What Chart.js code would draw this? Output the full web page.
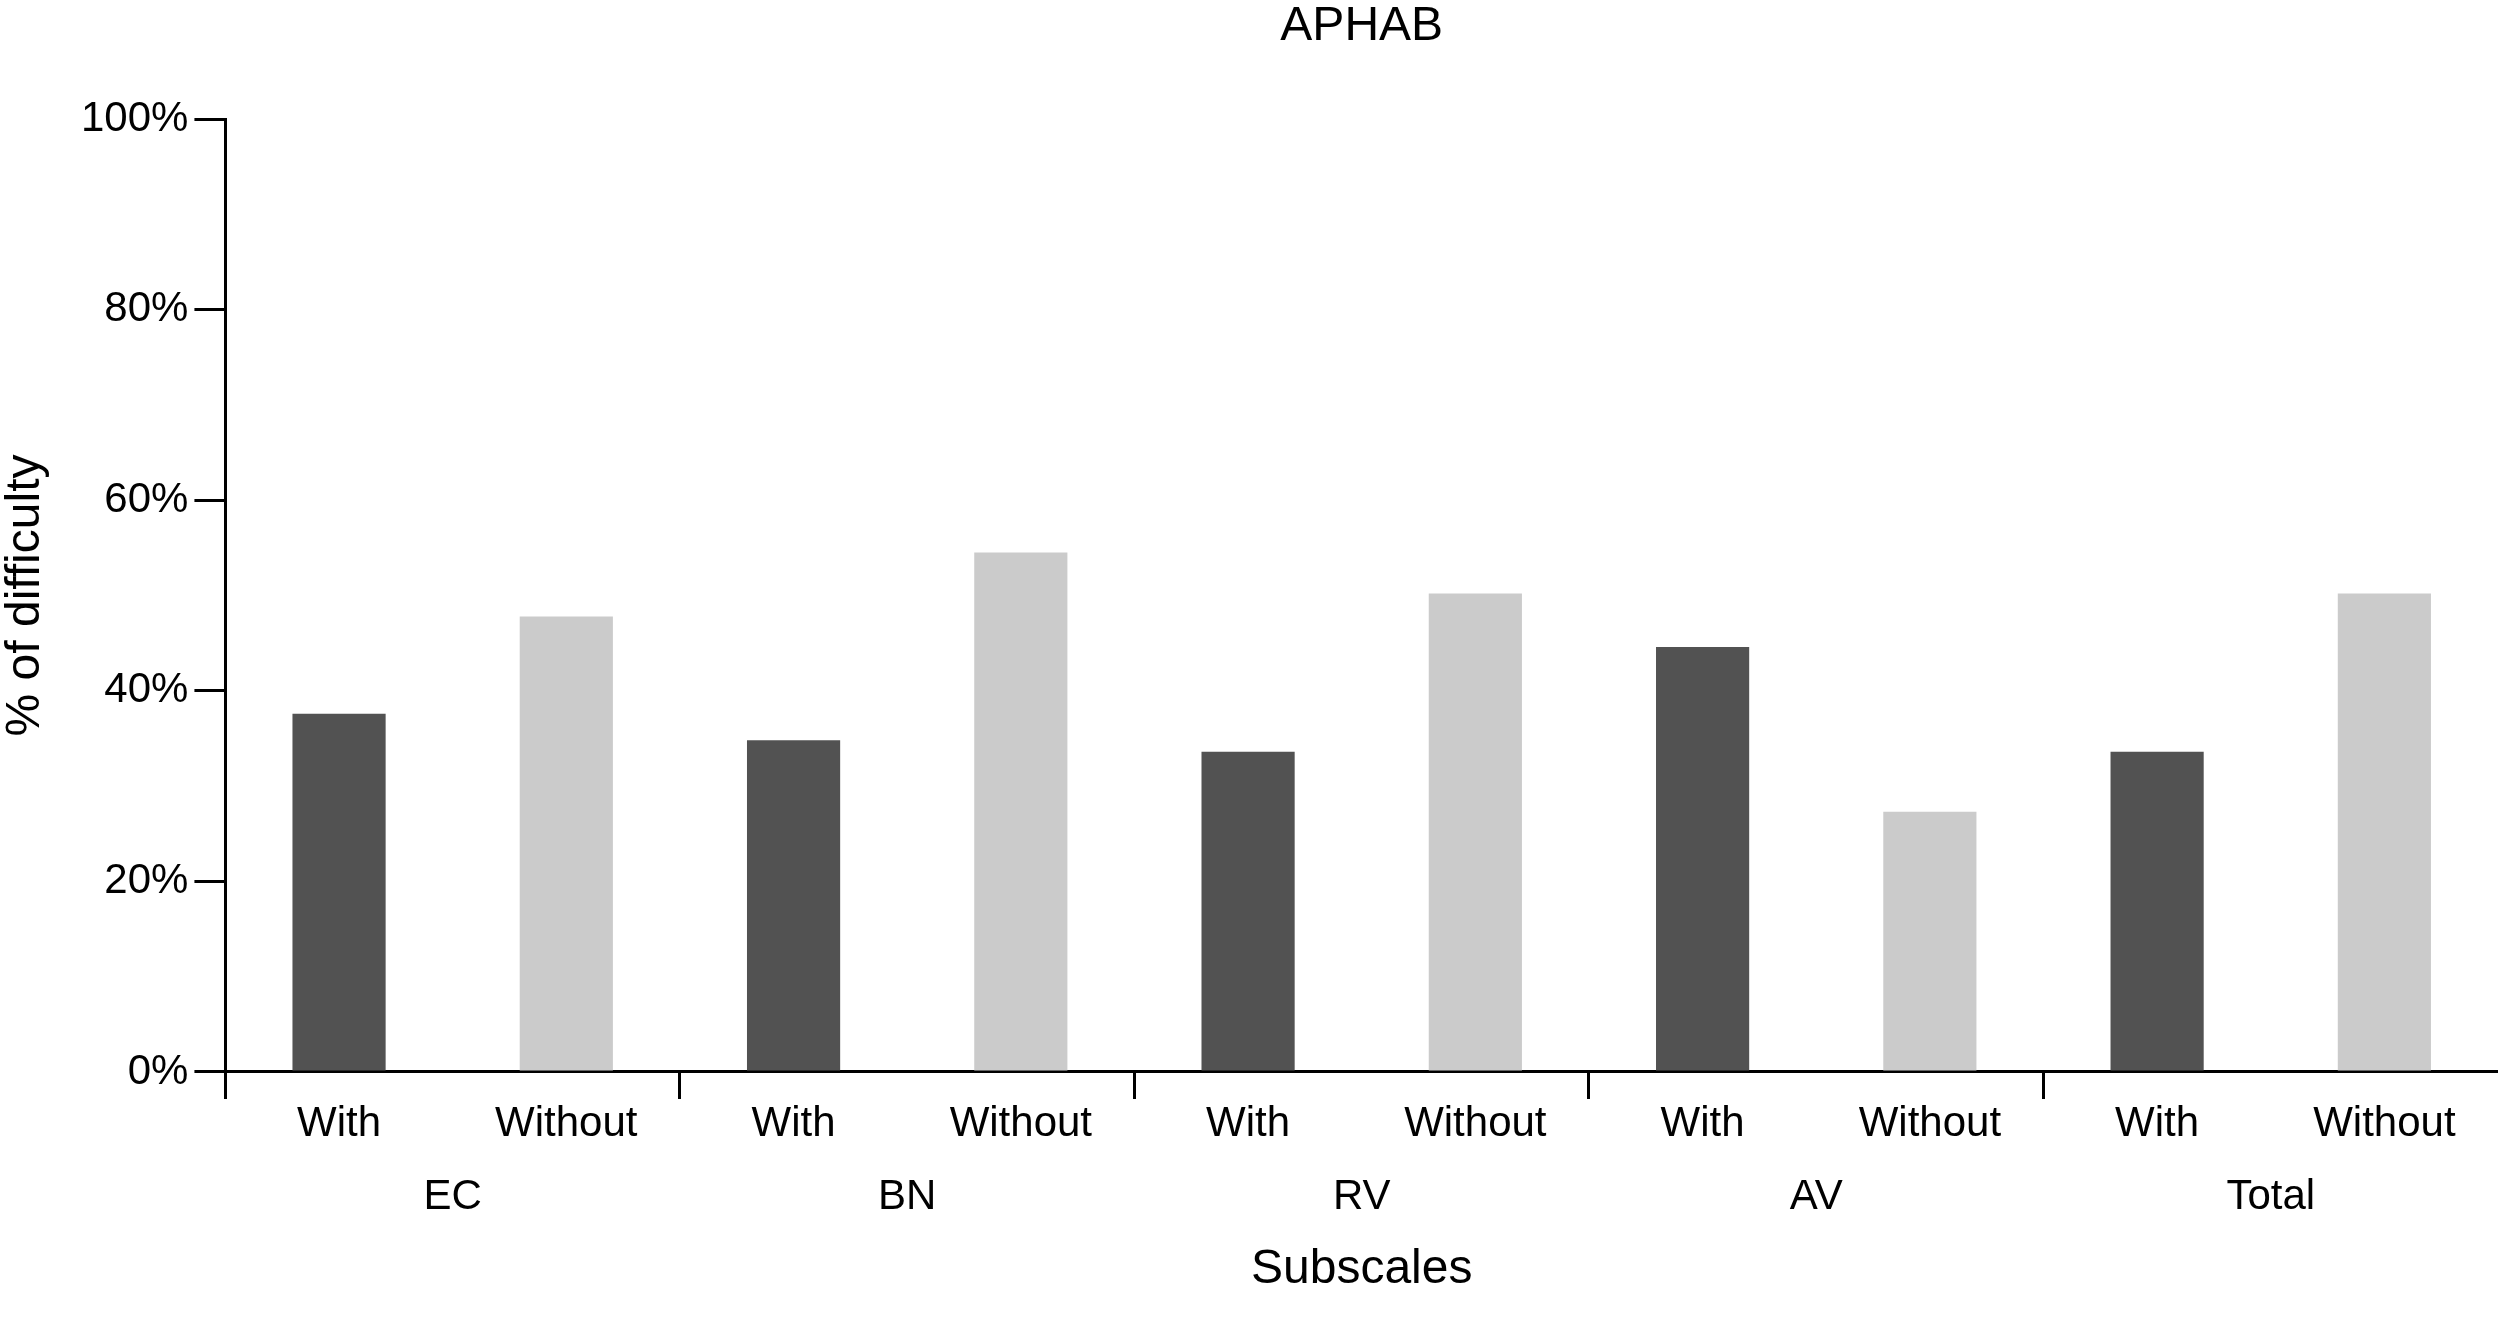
<!DOCTYPE html>
<html>
<head>
<meta charset="utf-8">
<script src="https://cdn.jsdelivr.net/npm/chart.js@4.4.0/dist/chart.umd.min.js"></script>
<style>
    html, body { margin: 0; padding: 0; background: #fff; }
    #wrap { width: 2498px; height: 1324px; }
</style>
</head>
<body>
<div id="wrap"><canvas id="myChart"></canvas></div>
<script>
// Data

const subscales = ["EC", "BN", "RV", "AV", "Total"];
const conditions = ["With", "Without"];
const withValues = [37.6, 34.8, 33.6, 44.6, 33.6];
const withoutValues = [47.8, 54.5, 50.2, 27.3, 50.2];
const yTicks = [0, 20, 40, 60, 80, 100];

const darkGrey = "#525252",
    lightGrey = "#cbcbcb";

let labels = [],
    values = [],
    colors = [];

subscales.forEach((s, i) => {
    labels.push(conditions[0], conditions[1]);
    values.push(withValues[i], withoutValues[i]);
    colors.push(darkGrey, lightGrey);
});

// Setup

Chart.defaults.font.family = "'Liberation Sans', Arial, sans-serif";
Chart.defaults.color = "#000";

const data = {
    labels: labels,
    datasets: [
        {
            label: "% of difficulty",
            data: values,
            xAxisID: "x",
            yAxisID: "y",
            backgroundColor: colors,
            borderWidth: 0,
            categoryPercentage: 1,
            barPercentage: 0.41
        },
    ],
};

// Config

const config = {
    type: "bar",
    data,
    options: {
        responsive: true,
        maintainAspectRatio: false,
        animation: false,
        layout: {
            padding: 0
        },
        plugins: {
            legend: { display: false },
            tooltip: { enabled: false }
        },
        scales: {
            x: {
                type: "category",
                weight: 0,
                offset: true,
                grid: {
                    offset: true,
                    drawOnChartArea: false,
                    drawTicks: true,
                    tickLength: 27,
                    lineWidth: 3,
                    tickColor: (ctx) => (ctx.index % 2 === 0 ? "#000" : "rgba(0,0,0,0)")
                },
                border: { display: true, color: "#000", width: 3 },
                ticks: {
                    padding: 0,
                    maxRotation: 0,
                    autoSkip: false,
                    font: { size: 42, lineHeight: 1.21 }
                }
            },
            y: {
                min: yTicks[0],
                max: yTicks[yTicks.length - 1],
                afterBuildTicks: (axis) => {
                    axis.ticks = yTicks.map((v) => ({ value: v }));
                },
                grid: {
                    drawOnChartArea: false,
                    drawTicks: true,
                    tickLength: 31,
                    lineWidth: 3,
                    tickColor: "#000"
                },
                border: { display: true, color: "#000", width: 3 },
                ticks: {
                    padding: 6,
                    font: { size: 42 },
                    callback: (v) => v + "%"
                },
                title: {
                    display: true,
                    text: "% of difficulty",
                    font: { size: 48, lineHeight: 1.0 },
                    padding: { top: 2, bottom: 25 }
                }
            },
            group: {
                type: "category",
                position: "bottom",
                weight: 1,
                labels: subscales,
                offset: true,
                grid: { display: false, drawTicks: false },
                border: { display: false },
                ticks: {
                    padding: 25,
                    maxRotation: 0,
                    autoSkip: false,
                    font: { size: 42, lineHeight: 1.1 }
                },
                title: {
                    display: true,
                    text: "Subscales",
                    font: { size: 48, lineHeight: 1.0 },
                    padding: { top: 0, bottom: 30 }
                }
            },
            // title sits on an empty top axis so it is centred over the plot area
            top: {
                type: "category",
                position: "top",
                labels: [""],
                grid: { display: false, drawTicks: false },
                border: { display: false },
                ticks: { display: false },
                title: {
                    display: true,
                    text: "APHAB",
                    font: { size: 48, lineHeight: 1.0 },
                    padding: { top: 3, bottom: 68 }
                }
            },
        },
    },
};

// Render init block

const myChart = new Chart(document.getElementById("myChart"), config);
</script>
</body>
</html>
